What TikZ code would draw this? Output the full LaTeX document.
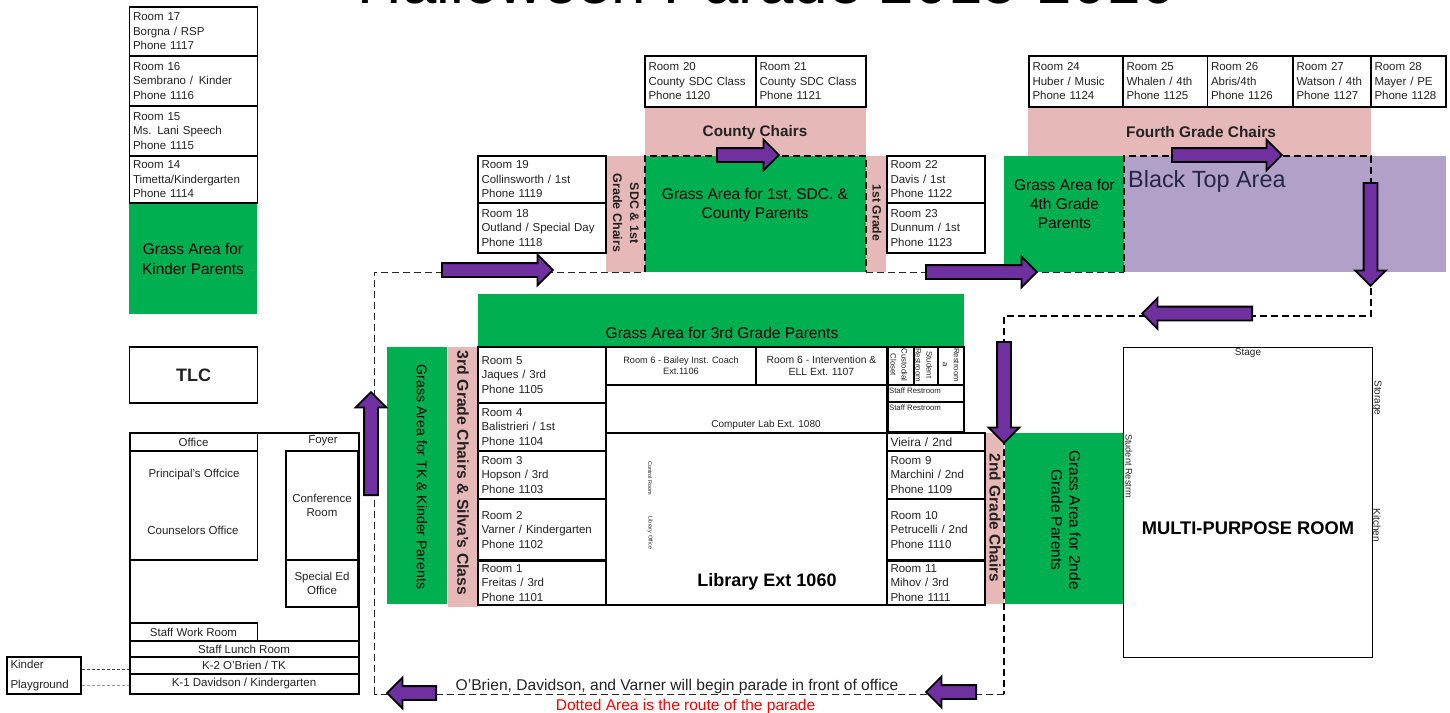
\documentclass[tikz,border=0pt]{standalone}
\usepackage{fontspec}
\setmainfont{Liberation Sans}
\usepackage{color}
\usetikzlibrary{shapes.arrows}

\definecolor{grassgreen}{HTML}{00B050}
\definecolor{chairpink}{HTML}{E6B8B7}
\definecolor{blacktop}{HTML}{B1A0C7}
\definecolor{paradepurple}{HTML}{7030A0}
\definecolor{roomtext}{HTML}{222222}
\definecolor{blacktoptext}{HTML}{26264A}

\newcommand{\fsz}[2]{\fontsize{#1}{#2}\selectfont}

\tikzset{
	room/.style 2 args={draw=black,line width=1.2pt,inner sep=0pt,minimum width=#1,minimum height=#2,
		text width=#1pt-7pt,align=left,text=roomtext,font=\fsz{11.5}{14.5}},
	heavyroom/.style={line width=2.2pt},
	plainbox/.style 2 args={draw=black,line width=1.2pt,inner sep=0pt,minimum width=#1,minimum height=#2,
		align=center,text=roomtext,font=\fsz{11.5}{14}},
	grassarea/.style 2 args={fill=grassgreen,inner sep=0pt,minimum width=#1,minimum height=#2},
	chairarea/.style 2 args={fill=chairpink,inner sep=0pt,minimum width=#1,minimum height=#2},
	grasstext/.style={inner sep=0pt,align=center,font=\fsz{15.5}{18.5}},
	chairtext/.style={inner sep=0pt,align=center,text=roomtext,font=\bfseries\fsz{15}{17}},
	smalltext/.style={inner sep=0pt,align=center,text=roomtext,font=\fsz{7.8}{11}},
	routeline/.style={draw=black!85,line width=1pt,dash pattern=on 7pt off 4pt},
	routeheavy/.style={draw=black,line width=1.6pt,dash pattern=on 7pt off 4pt},
	paradearrow/.style={single arrow,draw=black,line width=1.8pt,fill=paradepurple,anchor=tail,
		inner xsep=0pt,inner ysep=6pt,single arrow head extend=8.5pt,single arrow tip angle=90,
		shape border rotate=0},
}

\begin{document}
\begin{tikzpicture}[x=1pt,y=-1pt]
	\path[use as bounding box,clip] (0,0) rectangle (1450,712);

	\node (title) at (766.5,3) [anchor=base,inner sep=0pt,font=\fsz{61.8}{62}] {Halloween Parade 2015-2016};

	% colored areas
	\node (countychairs) at (755.5,131.5) [chairarea={221}{49}] {};
	\node (sdcchairs) at (625.5,214) [chairarea={39}{116}] {};
	\node (firstchairs) at (876,214) [chairarea={20}{116}] {};
	\node (fourthchairs) at (1199.5,131.5) [chairarea={343}{49}] {};
	\node (thirdchairs) at (463,477) [chairarea={30}{260}] {};
	\node (secondchairs) at (994.5,518.5) [chairarea={19}{171}] {};
	\node (kindergrass) at (193,258.5) [grassarea={128}{111}] {};
	\node (countygrass) at (755.5,214) [grassarea={221}{116}] {};
	\node (fourthgrass) at (1064,214) [grassarea={120}{116}] {};
	\node (thirdgrass) at (721,320) [grassarea={486}{52}] {};
	\node (tkgrass) at (417,475.5) [grassarea={60}{257}] {};
	\node (secondgrass) at (1064,518.5) [grassarea={118}{171}] {};
	\node (blacktoparea) at (1285,214) [fill=blacktop,inner sep=0pt,minimum width=322,minimum height=116] {};

	% rooms on the left
	\node (room17) at (193.5,31.5) [room={128}{49}] {Room 17\\Borgna / RSP\\Phone 1117};
	\node (room16) at (193.5,81) [room={128}{50}] {Room 16\\Sembrano /\, Kinder\\Phone 1116};
	\node (room15) at (193.5,131) [room={128}{50}] {Room 15\\Ms. Lani Speech\\Phone 1115};
	\node (room14) at (193.5,179.5) [room={128}{47}] {Room 14\\Timetta/Kindergarten\\Phone 1114};
	\node (tlc) at (193.5,375) [plainbox={128}{56},font=\bfseries\fsz{18}{20}] {TLC};

	% office block
	\node (officeblock) at (244,563.5) [plainbox={229}{261},line width=2pt] {};
	\node (office) at (193.5,442) [plainbox={128}{18}] {Office};
	\node (officerooms) at (193.5,505.5) [plainbox={128}{109}] {};
	\node (principal) at (194,475) [smalltext,font=\fsz{11.5}{14}] {Principal's Offcice};
	\node (counselors) at (193,530) [smalltext,font=\fsz{11.5}{14}] {Counselors Office};
	\node (foyer) at (323,441) [smalltext,font=\fsz{11.5}{14}] {Foyer};
	\node (conference) at (322,505.5) [plainbox={72}{109}] {Conference\\Room};
	\node (specialed) at (322,583.5) [plainbox={72}{47}] {Special Ed\\Office};
	\node (staffwork) at (193.5,632) [plainbox={128}{18}] {Staff Work Room};
	\node (stafflunch) at (244,649) [plainbox={229}{16}] {Staff Lunch Room};
	\node (ktwo) at (244,665.5) [plainbox={229}{17}] {K-2 O'Brien / TK};
	\node (kone) at (244,684) [plainbox={229}{20}] {K-1 Davidson / Kindergarten};
	\node (kinderplay) at (44,675.5) [room={74}{37},line width=1.6pt,font=\fsz{11.5}{20}] {Kinder\\Playground};
	\draw[draw=black!75,line width=1pt,dash pattern=on 3pt off 2pt] ([yshift=6.5pt]kinderplay.east) -- ([yshift=-3.5pt]ktwo.west);
	\draw[draw=black!40,line width=1pt,dash pattern=on 3pt off 2pt] ([yshift=-10pt]kinderplay.east) -- ([yshift=-1.5pt]kone.west);

	% rooms along the top
	\node (room20) at (700.5,81.5) [room={111}{51}] {Room 20\\County SDC Class\\Phone 1120};
	\node (room21) at (811,81.5) [room={110}{51}] {Room 21\\County SDC Class\\Phone 1121};
	\node (room24) at (1076,81.5) [room={94}{51}] {Room 24\\Huber / Music\\Phone 1124};
	\node (room25) at (1165.25,81.5) [room={84.5}{51}] {Room 25\\Whalen / 4th\\Phone 1125};
	\node (room26) at (1250.25,81.5) [room={85.5}{51}] {Room 26\\Abris/4th\\Phone 1126};
	\node (room27) at (1332,81.5) [room={78}{51}] {Room 27\\Watson / 4th\\Phone 1127};
	\node (room28) at (1408.5,81.5) [room={75}{51}] {Room 28\\Mayer / PE\\Phone 1128};
	\node (room19) at (542,179.5) [room={128}{47},heavyroom] {Room 19\\Collinsworth / 1st\\Phone 1119};
	\node (room18) at (542,228) [room={128}{50},heavyroom] {Room 18\\Outland / Special Day\\Phone 1118};
	\node (room22) at (936,179.5) [room={98}{47},heavyroom] {Room 22\\Davis / 1st\\Phone 1122};
	\node (room23) at (936,228) [room={98}{50},heavyroom] {Room 23\\Dunnum / 1st\\Phone 1123};

	% middle building
	\node (room5) at (542,375) [room={128}{56},heavyroom] {Room 5\\Jaques / 3rd\\Phone 1105};
	\node (room4) at (542,427) [room={128}{48},heavyroom] {Room 4\\Balistrieri / 1st\\Phone 1104};
	\node (room3) at (542,475) [room={128}{48},heavyroom] {Room 3\\Hopson / 3rd\\Phone 1103};
	\node (room2) at (542,529.75) [room={128}{61.5},heavyroom] {Room 2\\Varner / Kindergarten\\Phone 1102};
	\node (room1) at (542,582.75) [room={128}{44.5},heavyroom] {Room 1\\Freitas / 3rd\\Phone 1101};
	\node (bailey) at (681,366) [plainbox={150}{38},heavyroom,font=\fsz{9.2}{11}] {Room 6 - Bailey Inst. Coach\\Ext.1106};
	\node (intervention) at (821.5,366) [plainbox={131}{38},heavyroom,font=\fsz{10.4}{12}] {Room 6 - Intervention \&\\ELL Ext. 1107};
	\node (complab) at (746.5,409) [plainbox={281}{48},heavyroom] {};
	\node (complabtext) at (766,425) [smalltext,font=\fsz{10}{12}] {Computer Lab Ext. 1080};
	\node (library) at (746.5,519) [plainbox={281}{172},heavyroom] {};
	\node (librarytext) at (767,582) [smalltext,font=\bfseries\fsz{18}{20},text=black] {Library Ext 1060};
	\node (controlroom) at (650,478) [smalltext,rotate=-90,font=\fsz{5.5}{6}] {Control Room};
	\node (libraryoffice) at (650,533) [smalltext,rotate=-90,font=\fsz{5.5}{6}] {Library Office};
	\node (custodial) at (901,366) [plainbox={26}{38}] {};
	\node (custodialtext) at (899,365) [smalltext,rotate=-90] {Custodial\\Closet};
	\node (student) at (926,366) [plainbox={24}{38}] {};
	\node (studenttext) at (924,365) [smalltext,rotate=-90] {Student\\Restroom};
	\node (restroom) at (951,366) [plainbox={26}{38}] {};
	\node (restroomtext) at (951,365) [smalltext,rotate=-90] {Restroom\\a};
	\node (staffrest) at (926,393.5) [plainbox={76}{17}] {};
	\node (staffresttext) at (915,391) [smalltext] {Staff Restroom};
	\node (staffresttwo) at (926,417) [plainbox={76}{30}] {};
	\node (staffresttwotext) at (915,408) [smalltext] {Staff Restroom};
	\node (vieira) at (936,442) [room={98}{18},heavyroom,font=\fsz{12}{14}] {Vieira / 2nd};
	\node (room9) at (936,475) [room={98}{48},heavyroom] {Room 9\\Marchini / 2nd\\Phone 1109};
	\node (room10) at (936,529.75) [room={98}{61.5},heavyroom] {Room 10\\Petrucelli / 2nd\\Phone 1110};
	\node (room11) at (936,582.75) [room={98}{44.5},heavyroom] {Room 11\\Mihov / 3rd\\Phone 1111};

	% multi-purpose room
	\node (mproom) at (1247.5,502) [plainbox={249}{310},line width=1pt] {};
	\node (mptext) at (1248,528.5) [smalltext,font=\bfseries\fsz{18.3}{20},text=black] {MULTI-PURPOSE ROOM};
	\node (stage) at (1248,353) [smalltext,font=\fsz{10}{12}] {Stage};
	\node (storage) at (1377,398) [smalltext,rotate=-90,font=\fsz{10}{12}] {Storage};
	\node (kitchen) at (1377,525) [smalltext,rotate=-90,font=\fsz{10}{12}] {Kitchen};
	\node (studentrest) at (1129,466) [smalltext,rotate=-90,font=\fsz{9.2}{10}] {Student Restrm};

	% labels on the areas
	\node (kindergrasstext) at (193,259) [grasstext,font=\fsz{15.4}{20}] {Grass Area for\\Kinder Parents};
	\node (countygrasstext) at (755,205) [grasstext] {Grass Area for 1st, SDC. \&\\County Parents};
	\node (fourthgrasstext) at (1064.5,204) [grasstext,font=\fsz{15.5}{19}] {Grass Area for\\4th Grade\\Parents};
	\node (thirdgrasstext) at (722,333) [grasstext] {Grass Area for 3rd Grade Parents};
	\node (tkgrasstext) at (422,477) [grasstext,rotate=-90,font=\fsz{14.1}{17}] {Grass Area for TK \& Kinder Parents};
	\node (secondgrasstext) at (1066,520) [grasstext,rotate=-90,font=\fsz{15.5}{18}] {Grass Area for 2nde\\Grade Parents};
	\node (countychairstext) at (755,132.5) [chairtext,font=\bfseries\fsz{15.3}{17}] {County Chairs};
	\node (fourthchairstext) at (1201,132) [chairtext,font=\bfseries\fsz{15.4}{17}] {Fourth Grade Chairs};
	\node (sdcchairstext) at (626,213) [chairtext,rotate=-90,font=\bfseries\fsz{12.5}{17}] {SDC \& 1st\\Grade Chairs};
	\node (firstchairstext) at (877,213) [chairtext,rotate=-90,font=\bfseries\fsz{12.2}{14}] {1st Grade};
	\node (thirdchairstext) at (463,473) [chairtext,rotate=-90,font=\bfseries\fsz{15.8}{17}] {3rd Grade Chairs \& Silva's Class};
	\node (secondchairstext) at (995,518) [chairtext,rotate=-90,font=\bfseries\fsz{15.4}{17}] {2nd Grade Chairs};
	\node (blacktoplabel) at (1128,181) [anchor=west,inner sep=0pt,text=blacktoptext,font=\fsz{23.4}{25}] {Black Top Area};

	% parade route
	\coordinate (routeSW) at (374,694);
	\coordinate (routeNW) at (374,272);
	\coordinate (routeA) at (645,272);
	\coordinate (routeB) at (645,156);
	\coordinate (routeC) at (866,156);
	\coordinate (routeD) at (866,272);
	\coordinate (routeE) at (1124,272);
	\coordinate (routeF) at (1124,156);
	\coordinate (routeG) at (1371,156);
	\coordinate (routeH) at (1371,316);
	\coordinate (routeI) at (1004,316);
	\coordinate (routeJ) at (1004,694);
	\draw[routeline] (routeSW) -- (routeNW) -- (routeA);
	\draw[routeheavy] (routeA) -- (routeB) -- (routeC) -- (routeD);
	\draw[routeline] (routeD) -- (routeE);
	\draw[routeheavy] (routeE) -- (routeF) -- (routeG) -- (routeH) -- (routeI) -- (routeJ);
	\draw[routeline] (routeJ) -- (routeSW);

	\node (arrowA) at (441,270) [paradearrow,minimum height=111] {};
	\node (arrowB) at (716,155) [paradearrow,minimum height=62] {};
	\node (arrowC) at (925,272) [paradearrow,minimum height=111] {};
	\node (arrowD) at (1171,155) [paradearrow,minimum height=110] {};
	\node (arrowE) at (1370.5,182) [paradearrow,rotate=-90,minimum height=103] {};
	\node (arrowF) at (1253,313.5) [paradearrow,rotate=180,minimum height=110] {};
	\node (arrowG) at (1004,341) [paradearrow,rotate=-90,minimum height=101] {};
	\node (arrowH) at (977,692) [paradearrow,rotate=180,minimum height=50] {};
	\node (arrowI) at (437,693) [paradearrow,rotate=180,minimum height=49] {};
	\node (arrowJ) at (371,496) [paradearrow,rotate=90,minimum height=103] {};

	\node (parade) at (677,686) [inner sep=0pt,text=roomtext,font=\fsz{15.6}{16}] {O'Brien, Davidson, and Varner will begin parade in front of office};
	\node (dotted) at (685.5,706) [inner sep=0pt,text=red,font=\fsz{15.5}{16}] {Dotted Area is the route of the parade};
\end{tikzpicture}
\end{document}
